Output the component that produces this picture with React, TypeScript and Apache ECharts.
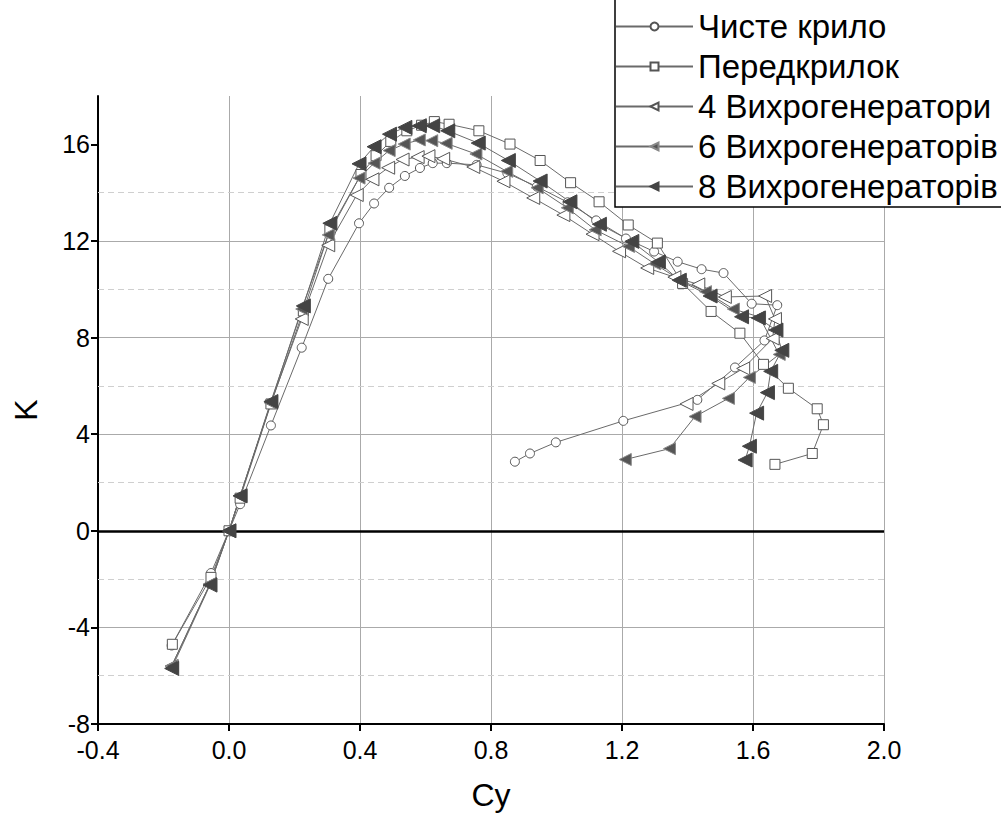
import React, { useEffect, useRef } from "react";
import * as echarts from "echarts";

const seriesNames = [
  "Чисте крило",
  "Передкрилок",
  "4 Вихрогенератори",
  "6 Вихрогенераторів",
  "8 Вихрогенераторів",
];

const cleanCy = [-0.175, -0.055, 0, 0.034, 0.128, 0.222, 0.303, 0.397, 0.443, 0.489, 0.537, 0.583, 0.622, 0.665, 0.756, 0.85, 0.94, 1.034, 1.121, 1.212, 1.298, 1.37, 1.443, 1.51, 1.596, 1.674, 1.635, 1.545, 1.43, 1.204, 0.998, 0.919, 0.873];
const cleanK = [-4.75, -1.75, 0, 1.1, 4.36, 7.58, 10.43, 12.73, 13.55, 14.2, 14.69, 15.02, 15.22, 15.22, 15.15, 14.8, 14.25, 13.6, 12.85, 12.1, 11.56, 11.14, 10.83, 10.67, 9.4, 9.34, 7.88, 6.76, 5.42, 4.55, 3.66, 3.2, 2.86];

const slatCy = [-0.173, -0.055, 0, 0.034, 0.128, 0.227, 0.308, 0.403, 0.449, 0.494, 0.543, 0.588, 0.627, 0.672, 0.763, 0.858, 0.95, 1.043, 1.13, 1.219, 1.308, 1.385, 1.472, 1.56, 1.632, 1.708, 1.796, 1.815, 1.781, 1.667];
const slatK = [-4.7, -1.93, 0, 1.35, 5.25, 9.1, 12.46, 14.75, 15.53, 16.12, 16.56, 16.79, 16.94, 16.83, 16.56, 16.01, 15.33, 14.41, 13.62, 12.66, 11.91, 10.24, 9.08, 8.18, 6.89, 5.9, 5.05, 4.39, 3.2, 2.75];

const vg4Cy = [-0.175, -0.058, 0, 0.034, 0.128, 0.222, 0.303, 0.39, 0.438, 0.486, 0.53, 0.576, 0.609, 0.654, 0.746, 0.838, 0.929, 1.021, 1.11, 1.191, 1.277, 1.36, 1.433, 1.514, 1.637, 1.667, 1.66, 1.57, 1.494, 1.397];
const vg4K = [-5.6, -2.2, 0, 1.43, 5.3, 8.77, 11.82, 13.9, 14.55, 15.03, 15.37, 15.47, 15.51, 15.4, 15.06, 14.47, 13.78, 13.07, 12.28, 11.57, 10.88, 10.5, 10.2, 9.68, 9.72, 8.77, 7.96, 6.72, 6.1, 5.25];

const vg6Cy = [-0.175, -0.058, 0, 0.034, 0.128, 0.222, 0.303, 0.397, 0.443, 0.489, 0.535, 0.581, 0.619, 0.663, 0.754, 0.848, 0.941, 1.033, 1.118, 1.22, 1.3, 1.375, 1.455, 1.54, 1.62, 1.68, 1.589, 1.525, 1.423, 1.345, 1.21];
const vg6K = [-5.6, -2.2, 0, 1.43, 5.3, 9.18, 12.25, 14.6, 15.22, 15.74, 16.01, 16.18, 16.15, 16.04, 15.6, 14.88, 14.2, 13.37, 12.46, 11.77, 11.05, 10.4, 9.9, 9.18, 8.85, 7.3, 6.35, 5.48, 4.73, 3.4, 2.95];

const vg8Cy = [-0.175, -0.058, 0, 0.034, 0.128, 0.227, 0.308, 0.397, 0.443, 0.49, 0.537, 0.581, 0.622, 0.668, 0.761, 0.853, 0.95, 1.041, 1.131, 1.23, 1.311, 1.375, 1.469, 1.565, 1.616, 1.67, 1.688, 1.654, 1.644, 1.611, 1.589, 1.576];
const vg8K = [-5.7, -2.25, 0, 1.45, 5.35, 9.31, 12.73, 15.19, 15.9, 16.42, 16.7, 16.77, 16.77, 16.56, 16.05, 15.33, 14.48, 13.62, 12.69, 11.98, 11.13, 10.37, 9.72, 8.86, 8.81, 8.31, 7.47, 6.6, 5.72, 4.87, 3.5, 2.93];

const minorGridK = [-6, -2, 2, 6, 10, 14];
const yTicks = [-8, -4, 0, 4, 8, 12, 16];

const LEFT_TRI = "path://M0,5L10,0L10,10Z";
const FONT = "Liberation Sans";

function pairs(xs: number[], ys: number[]) {
  return xs.map((x, i) => [x, ys[i]]);
}

export default function App() {
  const ref = useRef<HTMLDivElement>(null);
  useEffect(() => {
    if (!ref.current) return;
    const chart = echarts.init(ref.current, undefined, { renderer: "svg" });
    const lineStyle = { color: "#6a6a6a", width: 1 };
    const mk = (
      name: string,
      data: number[][],
      symbol: string,
      size: number,
      fill: string,
      extra: any = {}
    ) => ({
      type: "line",
      name,
      data,
      symbol,
      symbolSize: size,
      symbolKeepAspect: true,
      showAllSymbol: true,
      lineStyle,
      itemStyle: { color: fill, borderColor: "#555", borderWidth: 1 },
      z: 3,
      ...extra,
    });
    chart.setOption({
      animation: false,
      backgroundColor: "#fff",
      textStyle: { fontFamily: FONT },
      grid: { left: 98, right: 117, top: 96, bottom: 89 },
      graphic: [
        {
          type: "rect",
          shape: { x: 615, y: -3, width: 400, height: 210 },
          style: { fill: "#fff", stroke: "#000", lineWidth: 1.5 },
          z: 10,
        },
      ],
      legend: {
        orient: "vertical",
        left: 615,
        top: 10,
        padding: 0,
        itemWidth: 77,
        itemHeight: 10,
        itemGap: 7,
        z: 20,
        textStyle: { fontSize: 33, color: "#000", fontFamily: FONT },
        data: seriesNames,
      },
      xAxis: {
        type: "value",
        min: -0.4,
        max: 2.0,
        interval: 0.4,
        name: "Cy",
        nameLocation: "middle",
        nameGap: 55,
        nameTextStyle: { fontSize: 32, color: "#000", fontFamily: FONT },
        axisLine: { onZero: false, lineStyle: { color: "#000", width: 2 } },
        axisTick: { show: true, length: 7, lineStyle: { color: "#000", width: 2 } },
        axisLabel: {
          fontSize: 25,
          color: "#000",
          margin: 13,
          fontFamily: FONT,
          formatter: (v: number) => v.toFixed(1),
        },
        splitLine: { show: true, lineStyle: { color: "#aaa", width: 1 } },
      },
      yAxis: {
        type: "value",
        min: -8,
        max: 18,
        interval: 4,
        name: "K",
        nameLocation: "middle",
        nameGap: 56,
        nameTextStyle: { fontSize: 32, color: "#000", fontFamily: FONT },
        axisLine: { onZero: false, lineStyle: { color: "#000", width: 2 } },
        axisTick: {
          show: true,
          length: 7,
          customValues: yTicks,
          lineStyle: { color: "#000", width: 2 },
        },
        axisLabel: {
          fontSize: 25,
          color: "#000",
          margin: 8,
          fontFamily: FONT,
          customValues: yTicks,
        },
        splitLine: {
          show: true,
          showMaxLine: false,
          lineStyle: { color: "#aaa", width: 1 },
        },
      },
      series: [
        mk(seriesNames[0], pairs(cleanCy, cleanK), "circle", 9, "#fff", {
          markLine: {
            silent: true,
            symbol: "none",
            label: { show: false },
            animation: false,
            z: 1,
            data: [
              ...minorGridK.map((k) => ({
                yAxis: k,
                lineStyle: { color: "#cfcfcf", type: [6, 4], width: 1.2 },
              })),
              { yAxis: 0, lineStyle: { color: "#000", type: "solid", width: 2.5 } },
            ],
          },
        }),
        mk(seriesNames[1], pairs(slatCy, slatK), "rect", 10, "#fff"),
        mk(seriesNames[2], pairs(vg4Cy, vg4K), LEFT_TRI, 13, "#fff"),
        mk(seriesNames[3], pairs(vg6Cy, vg6K), LEFT_TRI, 12, "#555", {
          itemStyle: { color: "#555", borderColor: "#888", borderWidth: 1 },
        }),
        mk(seriesNames[4], pairs(vg8Cy, vg8K), LEFT_TRI, 14, "#444", {
          itemStyle: { color: "#444", borderColor: "#444", borderWidth: 1 },
        }),
      ],
    });
    return () => chart.dispose();
  }, []);
  return <div ref={ref} style={{ width: 1001, height: 816, position: "absolute", left: 0, top: 0 }} />;
}
